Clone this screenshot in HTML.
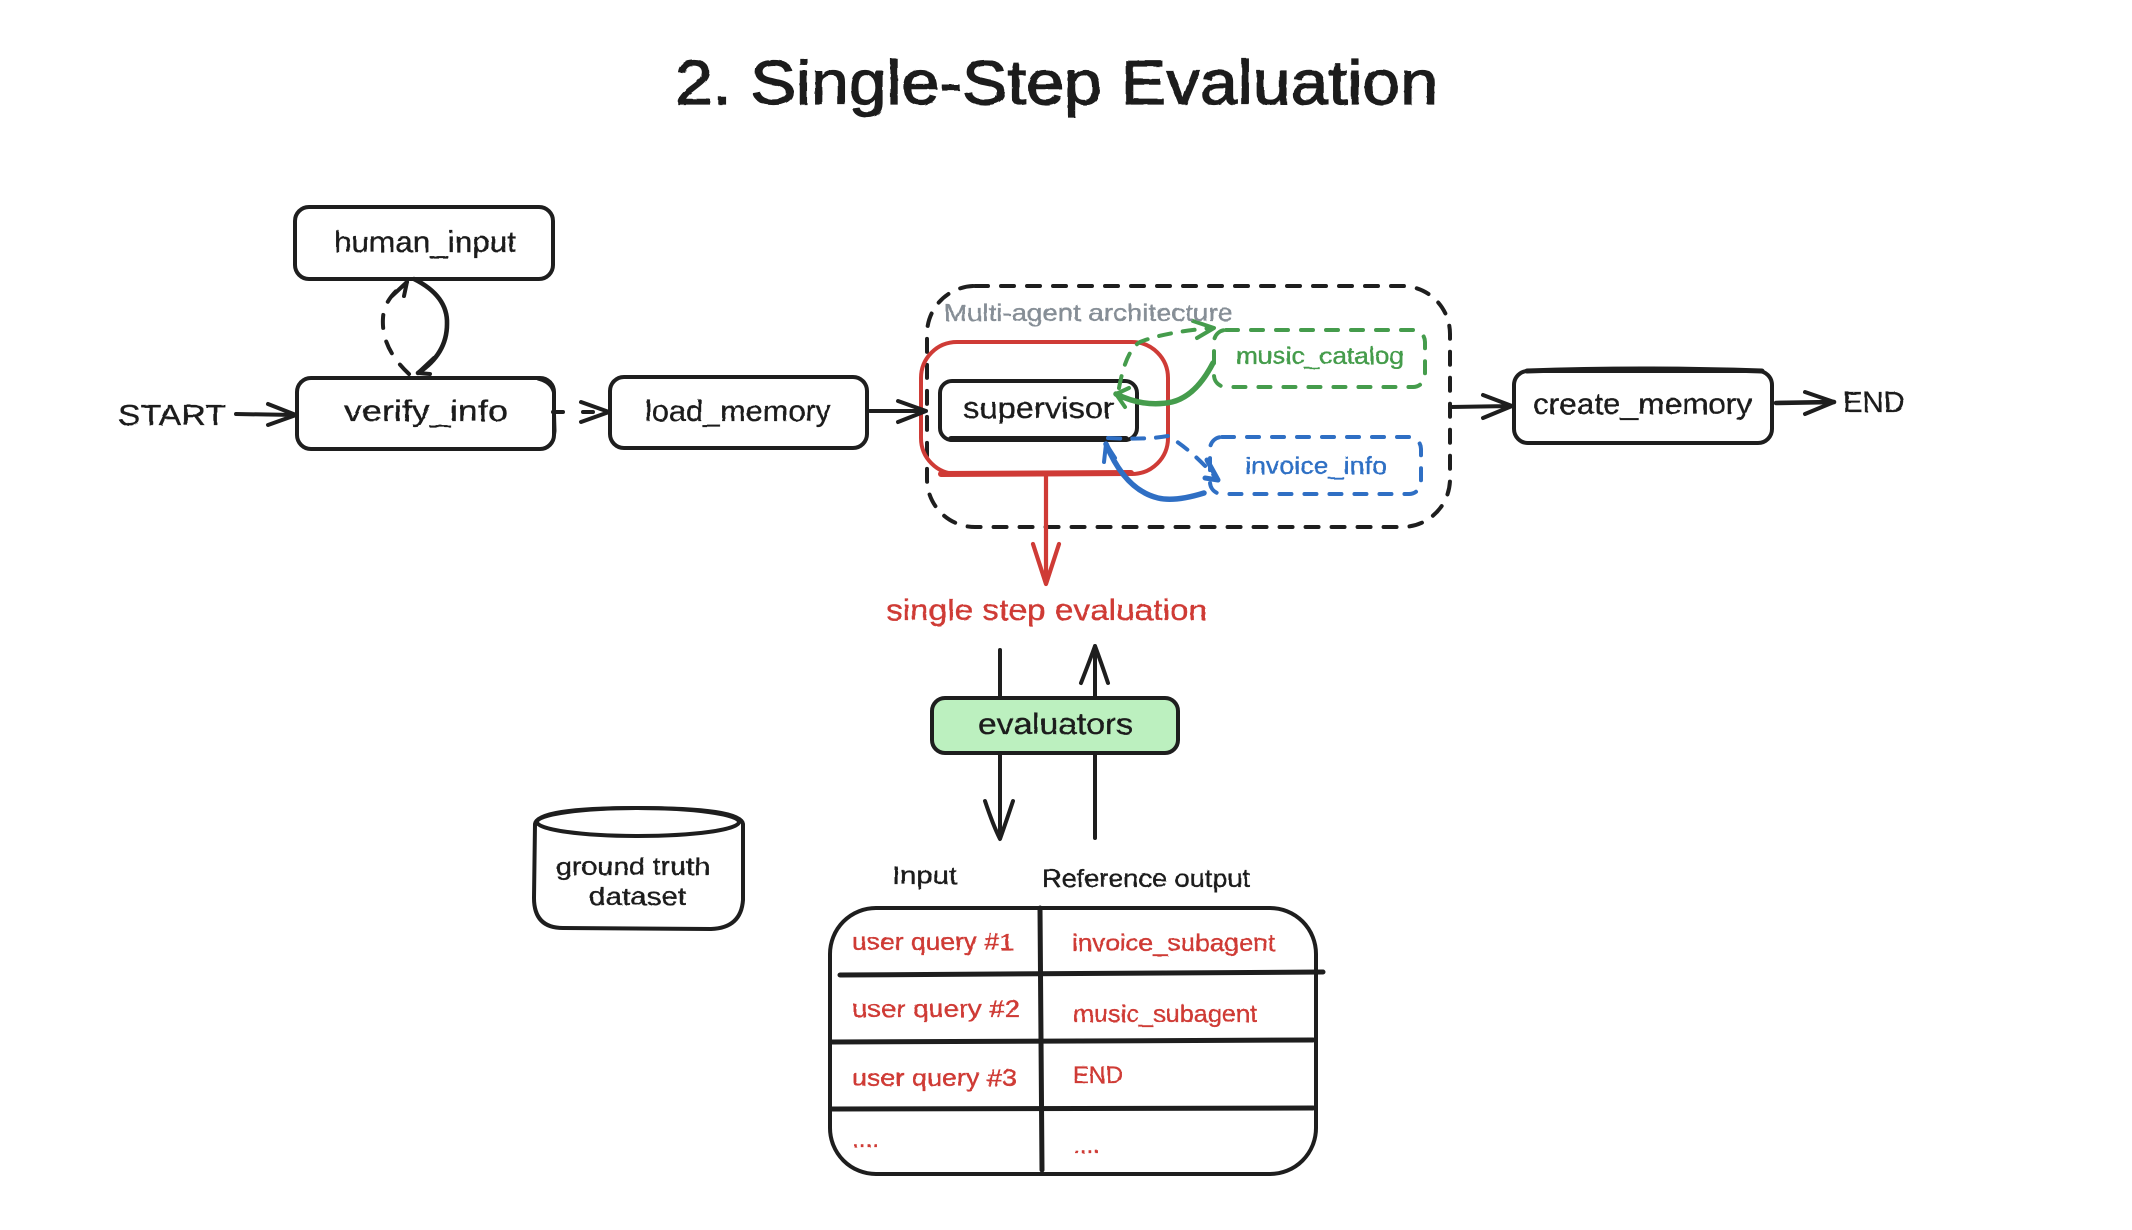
<!DOCTYPE html>
<html><head><meta charset="utf-8"><style>
html,body{margin:0;padding:0;background:#fff;width:2132px;height:1230px;overflow:hidden}
svg{display:block}
text{font-family:"Liberation Sans",sans-serif;fill:#1e1e1e;stroke:#1e1e1e;stroke-width:.35}
.s{fill:none;stroke:#1e1e1e;stroke-width:4;stroke-linecap:round;stroke-linejoin:round}
.t{fill:none;stroke:#1e1e1e;stroke-width:3;stroke-linecap:round;stroke-linejoin:round}
.r{stroke:#cf3b36}.g{stroke:#459c4c}.b{stroke:#2f6fc4}
text.tr{fill:#cf3b36;stroke:#cf3b36}
</style></head><body>
<svg width="2132" height="1230" viewBox="0 0 2132 1230" xmlns="http://www.w3.org/2000/svg">
<defs><filter id="w" x="-5%" y="-20%" width="110%" height="140%"><feTurbulence type="fractalNoise" baseFrequency="0.09" numOctaves="2" seed="4"/><feDisplacementMap in="SourceGraphic" scale="2.2"/></filter></defs>
<rect width="2132" height="1230" fill="#fff"/>

<!-- outer dashed -->
<rect class="s" style="stroke-dasharray:13 13" x="927" y="286" width="523" height="241" rx="48"/>
<!-- nodes -->
<rect class="s" x="295" y="207" width="258" height="72" rx="14"/>
<rect class="s" x="297" y="378" width="257" height="71" rx="14"/>
<path class="t" d="M538 379Q554 383 554 397L555 431Q554 445 542 449"/>
<rect class="s" x="610" y="377" width="257" height="71" rx="14"/>
<rect class="s" x="940" y="381" width="197" height="59" rx="12"/>
<path class="s" d="M951 439L1126 439" style="stroke-width:6"/>
<rect class="s" x="1514" y="371" width="258" height="72" rx="14"/>
<path class="s" d="M1527 371Q1640 367 1762 371" style="stroke-width:5"/>
<!-- red box -->
<rect class="s r" x="921" y="342" width="247" height="132" rx="36"/>
<path class="s r" d="M941 474L1131 473" style="stroke-width:6"/>
<!-- dashed small -->
<rect class="s g" x="1214" y="330" width="211" height="57" rx="12" style="stroke-dasharray:12 13"/>
<rect class="s b" x="1210" y="437" width="211" height="57" rx="12" style="stroke-dasharray:12 13"/>

<!-- green arrows -->
<path class="s g" style="stroke-dasharray:12 12" d="M1119 388Q1126 350 1140 342Q1165 332 1212 328"/>
<path class="s g" d="M1193 321L1214 328L1197 338"/>
<path class="s g" style="stroke-width:5.5" d="M1213 363Q1196 396 1172 402Q1145 408 1116 394"/>
<path class="s g" d="M1129 388L1116 394L1125 407"/>
<!-- blue arrows -->
<path class="s b" style="stroke-dasharray:12 12" d="M1108 438Q1146 440 1168 436Q1192 450 1218 480"/>
<path class="s b" style="stroke-width:5" d="M1207 460L1218 480L1205 478"/>
<path class="s b" style="stroke-width:5.5" d="M1204 493Q1175 502 1158 498Q1125 490 1106 444"/>
<path class="s b" d="M1106 444L1104 462M1106 444L1115 458"/>

<!-- black arrows -->
<path class="s" d="M236 414L295 415M268 404L296 415L268 425"/>
<path class="s" style="stroke-dasharray:10 20" d="M553 412L608 412"/>
<path class="s" d="M581 402L609 412L581 422"/>
<path class="s" d="M870 411L926 411M898 401L926 411L898 422"/>
<path class="s" d="M1451 407L1511 406M1483 395L1512 406L1483 418"/>
<path class="s" style="stroke-width:4.6" d="M1776 403L1834 402"/>
<path class="s" d="M1805 392L1834 402L1805 414"/>
<g transform="translate(-2,-2)">
<path class="s" style="stroke-dasharray:13 14" d="M411 376Q383 350 385 320Q386 300 409 284"/>
<path class="s" d="M394 298L409 284L406 298"/>
<path class="s" style="stroke-width:4.6" d="M416 281Q450 298 449 326Q449 356 420 375"/>
<path class="s" d="M436 360L420 375L432 376"/>
</g>

<!-- red arrow -->
<path class="s r" d="M1046 474L1046 584M1033 544L1046 584L1059 544" style="stroke-width:4.2"/>

<!-- evaluators -->
<path class="s" d="M1000 650L1000 697"/>
<path class="s" d="M1095 646L1095 697M1081 683Q1090 660 1095 646Q1101 662 1108 683"/>
<rect x="932" y="698" width="246" height="55" rx="13" fill="#bcf0bf" stroke="#1e1e1e" stroke-width="4"/>
<path class="s" d="M1000 753L1000 838M985 801Q993 825 1000 839Q1006 822 1013 801"/>
<path class="s" d="M1095 753L1095 838"/>

<!-- cylinder -->
<path class="s" d="M535 824L534 898Q534 928 563 928L711 929Q741 928 743 900L743 824Q741 808 637 808Q537 808 535 824Z"/>
<ellipse class="s" cx="638" cy="822" rx="101" ry="14"/>

<!-- table -->
<rect class="s" x="830" y="908" width="486" height="266" rx="46"/>
<path class="s" d="M840 975L1323 972" style="stroke-width:5"/>
<path class="s" d="M832 1042L1313 1040" style="stroke-width:5"/>
<path class="s" d="M832 1109L1313 1108" style="stroke-width:5"/>
<path class="s" d="M1040 908L1042 1170" style="stroke-width:5"/>

<g filter="url(#w)">
<text x="675" y="104" font-size="62" textLength="763" lengthAdjust="spacingAndGlyphs" style="stroke-width:1.2">2. Single-Step Evaluation</text>
<text x="334" y="252" font-size="30" textLength="182" lengthAdjust="spacingAndGlyphs">human_input</text>
<text x="344" y="421" font-size="30" textLength="164" lengthAdjust="spacingAndGlyphs">verify_info</text>
<text x="645" y="421" font-size="30" textLength="186" lengthAdjust="spacingAndGlyphs">load_memory</text>
<text x="963" y="418" font-size="30" textLength="151" lengthAdjust="spacingAndGlyphs">supervisor</text>
<text x="1533" y="414" font-size="30" textLength="219" lengthAdjust="spacingAndGlyphs">create_memory</text>
<text x="118" y="425" font-size="29" textLength="108" lengthAdjust="spacingAndGlyphs">START</text>
<text x="1843" y="412" font-size="29" textLength="62" lengthAdjust="spacingAndGlyphs">END</text>
<text x="944" y="321" font-size="24" textLength="289" lengthAdjust="spacingAndGlyphs" style="fill:#868e96;stroke:#868e96">Multi-agent architecture</text>
<text x="1236" y="364" font-size="24" textLength="168" lengthAdjust="spacingAndGlyphs" style="fill:#459c4c;stroke:#459c4c">music_catalog</text>
<text x="1245" y="474" font-size="24" textLength="142" lengthAdjust="spacingAndGlyphs" style="fill:#2f6fc4;stroke:#2f6fc4">invoice_info</text>
<text class="tr" x="886" y="620" font-size="30" textLength="321" lengthAdjust="spacingAndGlyphs">single step evaluation</text>
<text x="978" y="734" font-size="30" textLength="155" lengthAdjust="spacingAndGlyphs">evaluators</text>
<text x="556" y="875" font-size="25" textLength="154" lengthAdjust="spacingAndGlyphs">ground truth</text>
<text x="589" y="905" font-size="25" textLength="97" lengthAdjust="spacingAndGlyphs">dataset</text>
<text x="892" y="884" font-size="25" textLength="65" lengthAdjust="spacingAndGlyphs">Input</text>
<text x="1042" y="887" font-size="25" textLength="208" lengthAdjust="spacingAndGlyphs">Reference output</text>
<text class="tr" x="852" y="950" font-size="24" textLength="162" lengthAdjust="spacingAndGlyphs">user query #1</text>
<text class="tr" x="1072" y="951" font-size="24" textLength="203" lengthAdjust="spacingAndGlyphs">invoice_subagent</text>
<text class="tr" x="852" y="1017" font-size="24" textLength="168" lengthAdjust="spacingAndGlyphs">user query #2</text>
<text class="tr" x="1073" y="1022" font-size="24" textLength="184" lengthAdjust="spacingAndGlyphs">music_subagent</text>
<text class="tr" x="852" y="1086" font-size="24" textLength="165" lengthAdjust="spacingAndGlyphs">user query #3</text>
<text class="tr" x="1073" y="1083" font-size="24" textLength="50" lengthAdjust="spacingAndGlyphs">END</text>
<text class="tr" x="852" y="1147" font-size="24" textLength="27" lengthAdjust="spacingAndGlyphs">....</text>
<text class="tr" x="1073" y="1153" font-size="24" textLength="27" lengthAdjust="spacingAndGlyphs">....</text>
</g>
</svg>
</body></html>
